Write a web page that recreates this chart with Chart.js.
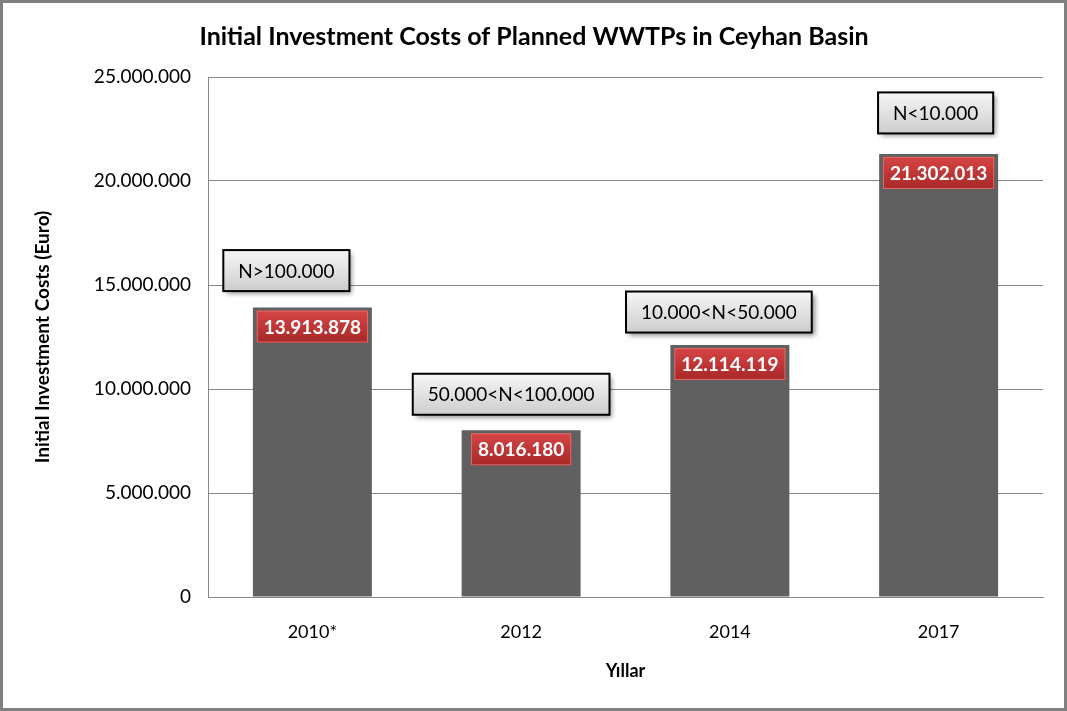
<!DOCTYPE html>
<html>
<head>
<meta charset="utf-8">
<title>Initial Investment Costs of Planned WWTPs in Ceyhan Basin</title>
<script src="https://cdn.jsdelivr.net/npm/chart.js@4.4.1/dist/chart.umd.min.js"></script>
<style>
  html, body { margin: 0; padding: 0; background: #fff; }
  #wrap { width: 1067px; height: 711px; position: relative; }
</style>
</head>
<body>
<div id="wrap"><canvas id="costChart" width="1067" height="711"></canvas></div>
<script>
// Data
const years = ['2010*', '2012', '2014', '2017'];
const costs = [13913878, 8016180, 12114119, 21302013];
const groupLabels = ['N>100.000', '50.000<N<100.000', '10.000<N<50.000', 'N<10.000'];
const yTicks = [0, 5000000, 10000000, 15000000, 20000000, 25000000];

// Where the grey callouts sit relative to the top of each bar (px)
const calloutDx = [-26, -10, -11, -3];
const calloutDy = [-37, -36, -33, -41];

const FONT = 'Lato, "Open Sans", sans-serif';

const fmt = (v) => String(Math.round(v)).replace(/\B(?=(\d{3})+(?!\d))/g, '.');

// frame, title and the two kinds of labels
const decorPlugin = {
  id: 'decor',
  beforeDraw(chart) {
    const c = chart.ctx;
    c.save();
    c.fillStyle = '#fff';
    c.fillRect(0, 0, chart.width, chart.height);
    c.restore();
  },
  afterDatasetsDraw(chart) {
    const c = chart.ctx;
    const bars = chart.getDatasetMeta(0).data;
    c.save();
    bars.forEach((bar, i) => {
      // red value box inside top of bar
      c.font = 'bold 19px ' + FONT;
      const txt = fmt(costs[i]);
      const w = c.measureText(txt).width + 14;
      const h = 32;
      const x = bar.x - w / 2;
      const y = bar.y + 3;
      const g = c.createLinearGradient(0, y, 0, y + h);
      g.addColorStop(0, '#d64545');
      g.addColorStop(1, '#a82828');
      c.fillStyle = g;
      c.fillRect(x, y, w, h);
      c.strokeStyle = '#e06a6a';
      c.lineWidth = 1;
      c.strokeRect(x + 0.5, y + 0.5, w - 1, h - 1);
      c.fillStyle = '#fff';
      c.textAlign = 'center';
      c.textBaseline = 'middle';
      c.fillText(txt, bar.x, y + h / 2 + 1);

      // grey group callout above bar
      c.font = '19px ' + FONT;
      const t2 = groupLabels[i];
      const w2 = c.measureText(t2).width + 30;
      const h2 = 41;
      const cx = bar.x + calloutDx[i];
      const cy = bar.y + calloutDy[i];
      const x2 = cx - w2 / 2;
      const y2 = cy - h2 / 2;
      c.save();
      c.shadowColor = 'rgba(0,0,0,0.45)';
      c.shadowBlur = 5;
      c.shadowOffsetX = 3;
      c.shadowOffsetY = 3;
      const g2 = c.createLinearGradient(0, y2, 0, y2 + h2);
      g2.addColorStop(0, '#f6f6f6');
      g2.addColorStop(1, '#cdcdcd');
      c.fillStyle = g2;
      c.fillRect(x2, y2, w2, h2);
      c.restore();
      c.strokeStyle = '#000';
      c.lineWidth = 2;
      c.strokeRect(x2, y2, w2, h2);
      c.fillStyle = '#000';
      c.fillText(t2, cx, cy + 1);
    });
    c.restore();
  },
  afterDraw(chart) {
    const c = chart.ctx;
    c.save();
    c.font = 'bold 25px ' + FONT;
    c.fillStyle = '#000';
    c.textAlign = 'center';
    c.textBaseline = 'middle';
    c.fillText('Initial Investment Costs of Planned WWTPs in Ceyhan Basin', 534, 37);
    c.strokeStyle = '#808080';
    c.lineWidth = 3;
    c.strokeRect(1.5, 1.5, chart.width - 3, chart.height - 3);
    c.restore();
  }
};

new Chart(document.getElementById('costChart'), {
  type: 'bar',
  data: {
    labels: years,
    datasets: [{
      label: 'Initial Investment Costs',
      data: costs,
      backgroundColor: '#606060',
      borderWidth: 0,
      barPercentage: 0.57,
      categoryPercentage: 1.0
    }]
  },
  options: {
    responsive: false,
    animation: false,
    devicePixelRatio: 1,
    layout: { padding: { top: 77, right: 24, bottom: 0, left: 0 } },
    plugins: {
      legend: { display: false },
      title: { display: false },
      tooltip: { enabled: false }
    },
    scales: {
      x: {
        grid: { display: false, drawTicks: false },
        border: { color: '#868686', width: 1 },
        ticks: { font: { family: FONT, size: 18 }, color: '#000', padding: 24 },
        title: {
          display: true,
          text: 'Yıllar',
          font: { family: FONT, size: 18, weight: 'bold' },
          color: '#000',
          padding: { top: 18, bottom: 29 }
        },
        afterFit(scale) { scale.height = 114; }
      },
      y: {
        min: 0,
        max: 25000000,
        afterBuildTicks(scale) { scale.ticks = yTicks.map(v => ({ value: v })); },
        grid: { color: '#868686', lineWidth: 1, drawTicks: false },
        border: { color: '#868686', width: 1 },
        ticks: {
          font: { family: FONT, size: 19 },
          color: '#000',
          padding: 17,
          callback: (v) => fmt(v)
        },
        title: {
          display: true,
          text: 'Initial Investment Costs (Euro)',
          font: { family: FONT, size: 19, weight: 'bold' },
          color: '#000',
          padding: { top: 31, bottom: 0 }
        },
        afterFit(scale) { scale.width = 208; }
      }
    }
  },
  plugins: [decorPlugin]
});
</script>
</body>
</html>
